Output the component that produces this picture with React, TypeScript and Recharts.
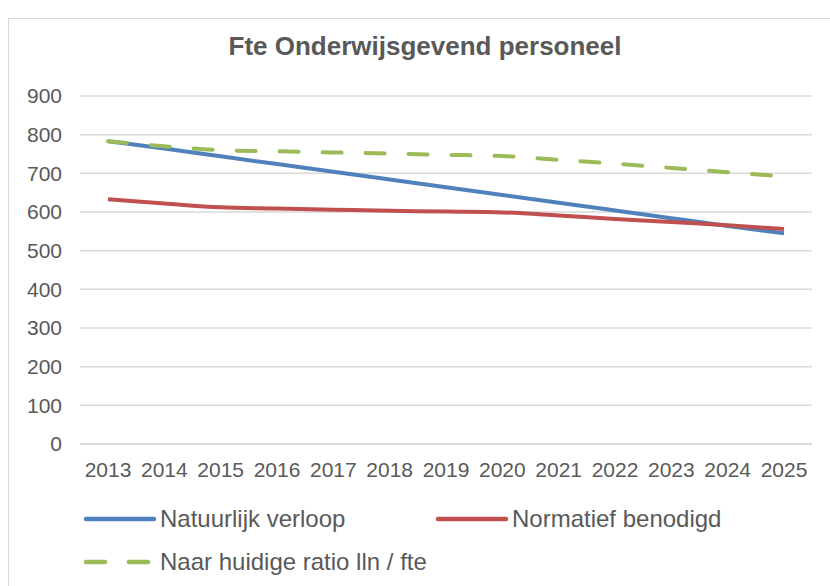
import { CartesianGrid, Line, LineChart, XAxis, YAxis } from "recharts";

const years = ["2013", "2014", "2015", "2016", "2017", "2018", "2019", "2020", "2021", "2022", "2023", "2024", "2025"];
const natuurlijkVerloop = [783, 764, 744, 724, 704, 684, 664, 644, 624, 604, 584, 564, 545];
const normatiefBenodigd = [633, 622, 612, 609, 606, 603, 601, 599, 591, 582, 574, 566, 556];
const huidigeRatio = [783, 770, 760, 757, 754, 751, 748, 745, 735, 725, 714, 703, 692];
const yTicks = [0, 100, 200, 300, 400, 500, 600, 700, 800, 900];

const data = years.map((year, i) => ({
  year,
  verloop: natuurlijkVerloop[i],
  normatief: normatiefBenodigd[i],
  ratio: huidigeRatio[i],
}));

const font = "'Liberation Sans', Arial, sans-serif";
const textColor = "#595959";
const gridColor = "#d9d9d9";

const legendRows = [
  { key: "verloop", label: "Natuurlijk verloop", color: "#4f81bd", dashed: false, x: 82, y: 519 },
  { key: "normatief", label: "Normatief benodigd", color: "#c0504d", dashed: false, x: 434, y: 519 },
  { key: "ratio", label: "Naar huidige ratio lln / fte", color: "#9bbb59", dashed: true, x: 82, y: 562 },
];

function ChartLegend() {
  return (
    <>
      {legendRows.map((row) => (
        <div
          key={row.key}
          style={{
            position: "absolute",
            left: row.x,
            top: row.y - 15,
            height: 30,
            display: "flex",
            alignItems: "center",
            fontFamily: font,
            fontSize: 24,
            color: textColor,
            whiteSpace: "nowrap",
          }}
        >
          <svg width={78} height={10}>
            <line
              x1={4}
              y1={5}
              x2={72}
              y2={5}
              stroke={row.color}
              strokeWidth={4.5}
              strokeLinecap="round"
              strokeDasharray={row.dashed ? "19 24" : undefined}
            />
          </svg>
          <span>{row.label}</span>
        </div>
      ))}
    </>
  );
}

export default function App() {
  return (
    <div style={{ position: "absolute", left: 0, top: 0, width: 830, height: 586, background: "#fff", overflow: "hidden" }}>
      <div
        style={{
          position: "absolute",
          left: 8,
          top: 18,
          width: 830,
          height: 600,
          border: `1px solid ${gridColor}`,
        }}
      />
      <div
        style={{
          position: "absolute",
          left: 0,
          top: 31,
          width: 850,
          textAlign: "center",
          fontFamily: font,
          fontWeight: "bold",
          fontSize: 26,
          color: textColor,
        }}
      >
        Fte Onderwijsgevend personeel
      </div>
      <div style={{ position: "absolute", left: 0, top: 0 }}>
        <LineChart
          width={830}
          height={586}
          data={data}
          margin={{ top: 96, right: 18, bottom: 112, left: 0 }}
        >
          <CartesianGrid vertical={false} stroke={gridColor} strokeWidth={1.5} />
          <XAxis
            dataKey="year"
            height={30}
            padding={{ left: 28, right: 28 }}
            tickLine={false}
            axisLine={{ stroke: gridColor, strokeWidth: 1.5 }}
            tick={{ fontSize: 21, fill: textColor, fontFamily: font }}
            tickMargin={12}
            interval={0}
          />
          <YAxis
            domain={[0, 900]}
            ticks={yTicks}
            width={80}
            tickLine={false}
            axisLine={false}
            tickSize={0}
            tickMargin={18}
            tick={{ fontSize: 21, fill: textColor, fontFamily: font }}
          />
          <Line
            type="monotone"
            dataKey="verloop"
            stroke="#4f81bd"
            strokeWidth={4}
            dot={false}
            isAnimationActive={false}
          />
          <Line
            type="monotone"
            dataKey="normatief"
            stroke="#c0504d"
            strokeWidth={4}
            dot={false}
            isAnimationActive={false}
          />
          <Line
            type="monotone"
            dataKey="ratio"
            stroke="#9bbb59"
            strokeWidth={4}
            strokeDasharray="19 24"
            strokeLinecap="round"
            dot={false}
            isAnimationActive={false}
          />
        </LineChart>
      </div>
      <ChartLegend />
    </div>
  );
}
